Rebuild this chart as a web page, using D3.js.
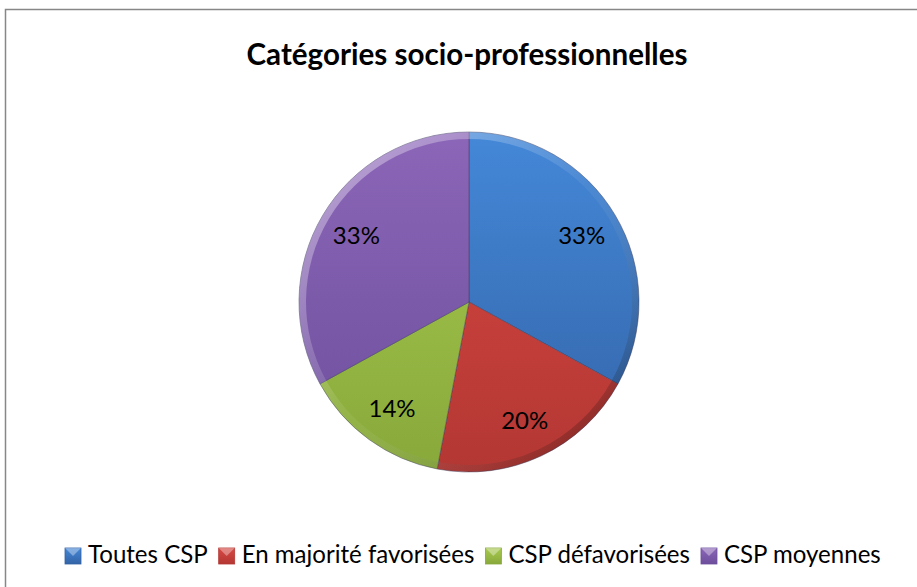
<!DOCTYPE html>
<html><head><meta charset="utf-8">
<script src="https://cdn.jsdelivr.net/npm/d3@7"></script>
<style>html,body{margin:0;padding:0;background:#fff;overflow:hidden}</style>
</head><body>
<svg id="c" width="917" height="587"></svg>
<script>
const title = "Catégories socio-professionnelles";
const categories = ["Toutes CSP", "En majorité favorisées", "CSP défavorisées", "CSP moyennes"];
const values = [33, 20, 14, 33];
const colorsTop = ["#4488d8", "#d94843", "#a8ca4e", "#8c66b8"];
const colorsBottom = ["#3363a6", "#b33733", "#88a93b", "#6c4e9c"];

const W = 917, H = 587;
const svg = d3.select("#c");
const defs = svg.append("defs");
const font = "Lato, 'Open Sans', sans-serif";

// border
svg.append("rect").attr("x", 5.5).attr("y", 9.5).attr("width", 1000).attr("height", 1000)
  .attr("fill", "#fff").attr("stroke", "#878787").attr("stroke-width", 1.5);

// title, fitted to the reference width
const tt = svg.append("text").attr("x", 467).attr("y", 65).attr("text-anchor", "middle")
  .attr("font-family", font).attr("font-weight", "bold").attr("font-size", 25)
  .attr("fill", "#000").text(title);
const tw = tt.node().getComputedTextLength();
tt.attr("font-size", 25 * 441 / tw);

const cx = 469, cy = 302, R = 170;
const g = svg.append("g").attr("transform", `translate(${cx},${cy})`);

categories.forEach((c, i) => {
  const lg = defs.append("linearGradient").attr("id", "g" + i)
    .attr("gradientUnits", "userSpaceOnUse").attr("x1", 0).attr("y1", -R).attr("x2", 0).attr("y2", R);
  lg.append("stop").attr("offset", "0%").attr("stop-color", colorsTop[i]);
  lg.append("stop").attr("offset", "100%").attr("stop-color", colorsBottom[i]);
  const mg = defs.append("linearGradient").attr("id", "m" + i)
    .attr("x1", 0).attr("y1", 0).attr("x2", 0).attr("y2", 1);
  mg.append("stop").attr("offset", "0%").attr("stop-color", colorsTop[i]);
  mg.append("stop").attr("offset", "100%").attr("stop-color", colorsBottom[i]);
});
const bg = defs.append("linearGradient").attr("id", "bevel")
  .attr("gradientUnits", "userSpaceOnUse").attr("x1", -R*0.7).attr("y1", -R*0.7).attr("x2", R*0.7).attr("y2", R*0.7);
bg.append("stop").attr("offset", "0%").attr("stop-color", "#fff").attr("stop-opacity", 0.35);
bg.append("stop").attr("offset", "50%").attr("stop-color", "#fff").attr("stop-opacity", 0.05);
bg.append("stop").attr("offset", "100%").attr("stop-color", "#000").attr("stop-opacity", 0.2);

const pie = d3.pie().sort(null).value(d => d)(values);
const arc = d3.arc().innerRadius(0).outerRadius(R);
const rim = d3.arc().innerRadius(R - 7).outerRadius(R);
const labelArc = d3.arc().innerRadius(R * 0.77).outerRadius(R * 0.77);

g.selectAll("path.slice").data(pie).join("path").attr("class", "slice")
  .attr("d", arc).attr("fill", (d, i) => `url(#g${i})`)
  .attr("stroke", "#3a3a5a").attr("stroke-opacity", 0.6).attr("stroke-width", 0.8);
g.selectAll("path.rim").data(pie).join("path").attr("class", "rim")
  .attr("d", rim).attr("fill", "url(#bevel)");

const total = d3.sum(values);
g.selectAll("text.lbl").data(pie).join("text").attr("class", "lbl")
  .attr("transform", d => `translate(${labelArc.centroid(d)})`)
  .attr("text-anchor", "middle").attr("dy", "0.36em")
  .attr("font-family", font).attr("font-size", 24).attr("fill", "#000")
  .text(d => Math.round(d.data / total * 100) + "%");

// legend, fitted to the reference span 65..881
const leg = svg.append("g");
const box = 16, gapBox = 7, gapItem = 11;
const items = leg.selectAll("g").data(categories).join("g");
items.append("rect").attr("width", box).attr("height", box).attr("y", -box + 1)
  .attr("fill", (d, i) => `url(#m${i})`).attr("stroke", (d, i) => colorsBottom[i]).attr("stroke-width", 0.8);
items.append("path").attr("d", `M0,${-box+1} L${box/2},${-box/2+1} L${box},${-box+1}Z`)
  .attr("fill", "#fff").attr("opacity", 0.35);
const texts = items.append("text").attr("x", box + gapBox).attr("y", 0)
  .attr("font-family", font).attr("font-size", 22).attr("fill", "#000").text(d => d);
let tsum = 0;
texts.each(function () { tsum += this.getComputedTextLength(); });
const avail = (881 - 65) - categories.length * (box + gapBox) - (categories.length - 1) * gapItem;
texts.attr("font-size", 22 * avail / tsum);
let x = 0;
const widths = [];
texts.each(function () { widths.push(this.getComputedTextLength()); });
items.attr("transform", (d, i) => { const t = `translate(${x},0)`; x += box + gapBox + widths[i] + gapItem; return t; });
leg.attr("transform", `translate(65,563)`);
</script>
</body></html>
